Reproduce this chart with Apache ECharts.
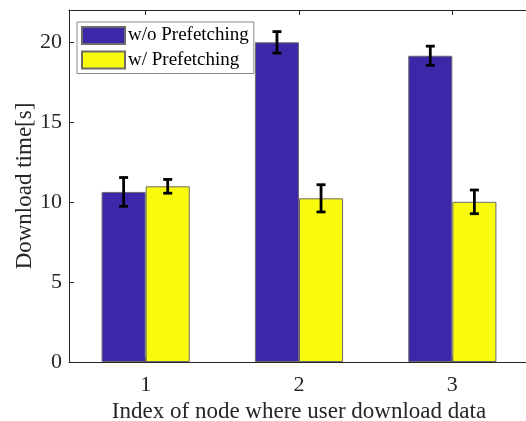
<!DOCTYPE html>
<html>
<head>
<meta charset="utf-8">
<script src="https://cdn.jsdelivr.net/npm/echarts@6/dist/echarts.min.js"></script>
<style>
html,body{margin:0;padding:0;background:#fff;}
#c{width:526px;height:421px;}
</style>
</head>
<body>
<div id="c"></div>
<script>
// ---- data ----
var categories = ['1', '2', '3'];
var seriesNames = ['w/o Prefetching', 'w/ Prefetching'];
var woMean = [10.63, 19.98, 19.14];
var woErr  = [0.90, 0.67, 0.60];
var wMean  = [10.98, 10.23, 10.01];
var wErr   = [0.43, 0.85, 0.74];
var yTicks = [0, 5, 10, 15, 20];

var FONT = 'Liberation Serif, Times New Roman, serif';
var TXT = '#262626';
var BAR_FRAC = 0.2875; // bar width as fraction of category band

function errorSeries(mean, err, side) {
  return {
    type: 'custom',
    silent: true,
    z: 10,
    data: mean.map(function (m, i) { return [i, m - err[i], m + err[i]]; }),
    encode: { x: 0, y: [1, 2] },
    renderItem: function (params, api) {
      var i = api.value(0);
      var band = api.size([1, 0])[0];
      var off = side * band * BAR_FRAC / 2;
      var lo = api.coord([i, api.value(1)]);
      var hi = api.coord([i, api.value(2)]);
      var x = lo[0] + off;
      var cap = 4.5;
      var st = { stroke: '#000', lineWidth: 2.8, fill: null };
      return {
        type: 'group',
        children: [
          { type: 'line', shape: { x1: x, y1: lo[1], x2: x, y2: hi[1] }, style: st },
          { type: 'line', shape: { x1: x - cap, y1: lo[1], x2: x + cap, y2: lo[1] }, style: st },
          { type: 'line', shape: { x1: x - cap, y1: hi[1], x2: x + cap, y2: hi[1] }, style: st }
        ]
      };
    }
  };
}

var chart = echarts.init(document.getElementById('c'), null, { renderer: 'canvas' });
var axisLine = { show: true, lineStyle: { color: TXT, width: 1 } };
chart.setOption({
  animation: false,
  backgroundColor: '#fff',
  textStyle: { fontFamily: FONT },
  grid: { left: 69, top: 10, width: 460, height: 352, containLabel: false, outerBoundsMode: 'none' },
  legend: {
    orient: 'vertical',
    left: 77, top: 22,
    data: seriesNames,
    itemWidth: 43, itemHeight: 17, itemGap: 5.5,
    padding: [4, 5, 4, 4],
    borderColor: '#8a8a8a', borderWidth: 1,
    backgroundColor: '#fff',
    icon: 'rect',
    textStyle: { fontFamily: FONT, fontSize: 19, color: '#000', padding: [0, 0, 0, -2] },
    selectedMode: false
  },
  xAxis: [{
    type: 'category',
    data: categories,
    boundaryGap: true,
    axisLine: axisLine,
    axisTick: { show: true, inside: true, length: 5, alignWithLabel: true, lineStyle: { color: TXT } },
    axisLabel: { fontFamily: FONT, fontSize: 22, color: TXT, margin: 12 },
    name: 'Index of node where user download data',
    nameLocation: 'middle',
    nameGap: 38,
    nameMoveOverlap: false,
    nameTextStyle: { fontFamily: FONT, fontSize: 23, color: TXT }
  }, {
    type: 'category',
    data: categories,
    position: 'top',
    boundaryGap: true,
    axisLine: axisLine,
    axisTick: { show: true, inside: true, length: 5, alignWithLabel: true, lineStyle: { color: TXT } },
    axisLabel: { show: false }
  }],
  yAxis: {
    type: 'value',
    min: 0, max: 22, interval: 5,
    axisLine: axisLine,
    axisTick: { show: true, inside: true, length: 5, lineStyle: { color: TXT } },
    splitLine: { show: false },
    axisLabel: {
      fontFamily: FONT, fontSize: 22, color: TXT, margin: 7,
      showMaxLabel: false,
      formatter: function (v) { return yTicks.indexOf(v) >= 0 ? String(v) : ''; }
    },
    name: 'Download time[s]',
    nameLocation: 'middle',
    nameGap: 33,
    nameMoveOverlap: false,
    nameTextStyle: { fontFamily: FONT, fontSize: 23, color: TXT }
  },
  series: [{
    name: seriesNames[0],
    type: 'bar',
    data: woMean,
    barWidth: (BAR_FRAC * 100) + '%',
    barGap: '0%',
    itemStyle: { color: '#3E26A8', borderColor: '#6b6b6b', borderWidth: 1 }
  }, {
    name: seriesNames[1],
    type: 'bar',
    data: wMean,
    barWidth: (BAR_FRAC * 100) + '%',
    barGap: '0%',
    itemStyle: { color: '#F9FB0E', borderColor: '#6b6b6b', borderWidth: 1 }
  },
  errorSeries(woMean, woErr, -1),
  errorSeries(wMean, wErr, 1)
  ]
});
</script>
</body>
</html>
